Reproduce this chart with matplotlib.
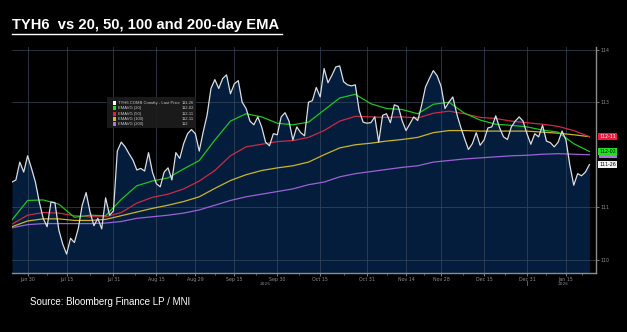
import numpy as np
import pandas as pd
import matplotlib
matplotlib.use('Agg')
from matplotlib import pyplot as plt
from matplotlib.patches import Rectangle
from matplotlib.transforms import blended_transform_factory

# trading calendar for TYH6 (weekends and exchange holidays removed)
holidays = ['2025-07-04', '2025-09-01', '2025-11-27', '2025-12-25', '2026-01-01']
dates = pd.bdate_range('2025-06-24', '2026-01-23').drop(pd.to_datetime(holidays))

last_price = [
    111.48, 111.52, 111.86, 111.67, 111.98, 111.74, 111.48, 111.10, 110.79, 110.63,
    111.10, 111.09, 110.57, 110.30, 110.11, 110.41, 110.33, 110.60, 111.04, 111.28,
    110.91, 110.65, 110.79, 110.59, 111.18, 110.85, 110.93, 112.07, 112.24, 112.15,
    112.02, 111.90, 111.71, 111.74, 111.69, 112.04, 111.67, 111.45, 111.39, 111.67,
    111.75, 111.52, 112.04, 111.93, 112.21, 112.40, 112.48, 112.40, 112.07, 112.43,
    112.75, 113.26, 113.43, 113.26, 113.45, 113.52, 113.16, 113.35, 113.41, 113.00,
    112.88, 112.64, 112.57, 112.72, 112.53, 112.24, 112.17, 112.40, 112.38, 112.72,
    112.80, 112.64, 112.28, 112.53, 112.42, 112.36, 113.00, 113.03, 113.28, 113.10,
    113.64, 113.37, 113.51, 113.67, 113.69, 113.39, 113.33, 113.31, 113.33, 112.84,
    112.62, 112.60, 112.61, 112.72, 112.24, 112.75, 112.78, 112.61, 112.95, 112.92,
    112.65, 112.46, 112.59, 112.72, 112.65, 112.94, 113.29, 113.45, 113.60, 113.50,
    113.30, 112.88, 113.00, 113.10, 112.78, 112.53, 112.31, 112.10, 112.21, 112.42,
    112.18, 112.28, 112.51, 112.53, 112.74, 112.51, 112.34, 112.29, 112.53, 112.64,
    112.72, 112.64, 112.40, 112.20, 112.40, 112.34, 112.56, 112.26, 112.23, 112.15,
    112.24, 112.45, 112.28, 111.80, 111.42, 111.64, 111.60, 111.67, 111.8125,
]

# moving averages read every 4th session
ema_step = 4
ema20 = [
    110.76, 111.13, 111.14, 111.06, 110.81, 110.85, 110.84, 111.15, 111.41, 111.50,
    111.56, 111.73, 111.89, 112.28, 112.64, 112.78, 112.72, 112.60, 112.57, 112.62,
    112.85, 113.08, 113.15, 112.97, 112.88, 112.86, 112.78, 112.96, 113.00, 112.79,
    112.66, 112.58, 112.56, 112.53, 112.47, 112.43, 112.21, 112.0625,
]
ema50 = [
    110.68, 110.85, 110.90, 110.89, 110.84, 110.82, 110.82, 110.90, 111.08, 111.19,
    111.25, 111.35, 111.50, 111.70, 111.98, 112.15, 112.20, 112.25, 112.27, 112.33,
    112.46, 112.64, 112.73, 112.72, 112.71, 112.72, 112.70, 112.79, 112.83, 112.78,
    112.71, 112.69, 112.64, 112.61, 112.58, 112.54, 112.46, 112.34375,
]
ema100 = [
    110.63, 110.74, 110.78, 110.78, 110.75, 110.75, 110.77, 110.84, 110.91, 110.98,
    111.04, 111.11, 111.20, 111.36, 111.51, 111.62, 111.70, 111.75, 111.79, 111.86,
    112.00, 112.13, 112.19, 112.22, 112.26, 112.29, 112.33, 112.42, 112.46, 112.46,
    112.45, 112.45, 112.45, 112.45, 112.43, 112.41, 112.38, 112.34375,
]
ema200 = [
    110.61, 110.67, 110.69, 110.69, 110.69, 110.69, 110.70, 110.73, 110.79, 110.82,
    110.85, 110.89, 110.95, 111.04, 111.13, 111.20, 111.25, 111.30, 111.35, 111.43,
    111.48, 111.58, 111.64, 111.68, 111.72, 111.76, 111.79, 111.86, 111.89, 111.92,
    111.94, 111.96, 111.98, 111.99, 112.01, 112.02, 112.01, 112.00,
]

tick_dates = ['2025-06-30', '2025-07-15', '2025-07-31', '2025-08-15', '2025-08-29',
              '2025-09-15', '2025-09-30', '2025-10-15', '2025-10-31', '2025-11-14',
              '2025-11-28', '2025-12-15', '2025-12-31', '2026-01-15']
tick_labels = ['Jun 30', 'Jul 15', 'Jul 31', 'Aug 15', 'Aug 29', 'Sep 15', 'Sep 30',
               'Oct 15', 'Oct 31', 'Nov 14', 'Nov 28', 'Dec 15', 'Dec 31', 'Jan 15']
y_ticks = [110, 111, 113, 114]

series = [
    ('TYH6 COMB Comdty - Last Price', last_price, '#d9dee6'),
    ('EMAVG (20)', ema20, '#1ec51e'),
    ('EMAVG (50)', ema50, '#cc2a44'),
    ('EMAVG (100)', ema100, '#c9b52a'),
    ('EMAVG (200)', ema200, '#9b62d6'),
]


def in32(v):
    # treasury futures quote: handle-32nds
    whole = int(v)
    n = int(round((v - whole) * 32))
    if n == 32:
        whole, n = whole + 1, 0
    return f'{whole}-{n:02d}' if n else f'{whole}'


W, H = 627, 332
fig = plt.figure(figsize=(W / 100, H / 100), dpi=100, facecolor='black')


def fx(px):
    return px / W


def fy(py):
    return 1 - py / H


ax = fig.add_axes([fx(12), fy(273), fx(596) - fx(12), fy(47) - fy(273)])
ax.set_facecolor('black')

x = np.arange(len(dates))
x_ema = np.arange(0, len(dates), ema_step)
y0 = 109.75

ax.fill_between(x, last_price, y0, color='#041d3c', lw=0, zorder=1)
for name, vals, col in series[:0:-1]:
    ax.plot(x_ema, vals, color=col, lw=0.9, zorder=3)
ax.plot(x, last_price, color=series[0][2], lw=0.9, zorder=4)

ax.set_xlim(0, 149.7)
ax.set_ylim(y0, 114.05)

tick_pos = [dates.get_loc(pd.Timestamp(d)) for d in tick_dates]
ax.set_xticks(tick_pos)
ax.set_xticklabels(tick_labels)
ax.set_xticks([(a + b) / 2 for a, b in zip(tick_pos[:-1], tick_pos[1:])] + [146],
              minor=True)
ax.yaxis.tick_right()
ax.set_yticks(y_ticks)
ax.set_yticklabels([str(t) for t in y_ticks])
ax.tick_params(colors='#8c8c8c', labelsize=3.4, length=2, width=0.6, pad=1.2)
ax.tick_params(which='minor', colors='#8c8c8c', length=1.5, width=0.5)
ax.grid(True, color='#3a4a5c', lw=0.6, alpha=0.8)
ax.set_axisbelow('line')

for s in ['top', 'left']:
    ax.spines[s].set_visible(False)
for s in ['right', 'bottom']:
    ax.spines[s].set_color('#8c8c8c')
    ax.spines[s].set_linewidth(1.0)

# year markers under the date axis
fig.text(fx(265), fy(284), '2025', color='#8c8c8c', fontsize=3.2, ha='center', va='center')
fig.text(fx(563), fy(284), '2026', color='#8c8c8c', fontsize=3.2, ha='center', va='center')
fig.add_artist(plt.Line2D([fx(527), fx(527)], [fy(281), fy(285)], color='#8c8c8c', lw=0.5))

# last-value tags on the price axis
tag_style = {
    'EMAVG (200)': ('#b270e6', 'black'),
    'EMAVG (100)': ('#d8c020', 'black'),
    'EMAVG (50)': ('#ee1c3c', 'white'),
    'EMAVG (20)': ('#22dd22', 'black'),
    'TYH6 COMB Comdty - Last Price': ('#f2f2f2', 'black'),
}
last_vals = {n: v[-1] for n, v, c in series}

# the 200-day tag sits underneath the 20-day one, only its edge shows
trans = blended_transform_factory(ax.transAxes, ax.transData)
ax.add_patch(Rectangle((1.0055, last_vals['EMAVG (200)'] - 0.06), 0.031, 0.1,
                       transform=trans, fc=tag_style['EMAVG (200)'][0], ec='none',
                       clip_on=False, zorder=5))

for name in ['EMAVG (100)', 'EMAVG (50)', 'EMAVG (20)', 'TYH6 COMB Comdty - Last Price']:
    bg, fg = tag_style[name]
    ax.annotate(in32(last_vals[name]), xy=(1, last_vals[name]),
                xycoords=('axes fraction', 'data'),
                xytext=(2.2, 0), textcoords='offset points', ha='left', va='center',
                fontsize=3.4, color=fg, annotation_clip=False, zorder=6,
                bbox=dict(boxstyle='square,pad=0.25', fc=bg, ec='none'))

# legend box
fig.add_artist(Rectangle((fx(107), fy(128)), fx(196) - fx(107), fy(97) - fy(128),
                         transform=fig.transFigure, fc='#1e1e1e', ec='none', alpha=0.9))
row_y = [102.7, 108.3, 113.6, 119.0, 124.3]
for (name, vals, col), ry in zip(series, row_y):
    sq = 'white' if name.startswith('TYH6') else tag_style[name][0]
    fig.add_artist(Rectangle((fx(112.5), fy(ry + 2)), fx(4), fy(0) - fy(4),
                             transform=fig.transFigure, fc=sq, ec='none'))
    fig.text(fx(118), fy(ry), name, color='#c8c8c8', fontsize=3.0,
             family='Liberation Sans', va='center')
    fig.text(fx(182), fy(ry), in32(vals[-1]), color='#c8c8c8', fontsize=3.0,
             family='Liberation Sans', va='center')

fig.text(fx(12), fy(25), 'TYH6  vs 20, 50, 100 and 200-day EMA', color='white',
         fontsize=10.6, fontweight='bold', family='Liberation Sans', va='center')
fig.add_artist(plt.Line2D([fx(12), fx(282)], [fy(34), fy(34)], color='white', lw=1))

fig.text(fx(30), fy(302), 'Source: Bloomberg Finance LP / MNI', color='white',
         fontsize=7, family='Liberation Sans', va='center')

fig.savefig('out.png', dpi=100, facecolor='black')
